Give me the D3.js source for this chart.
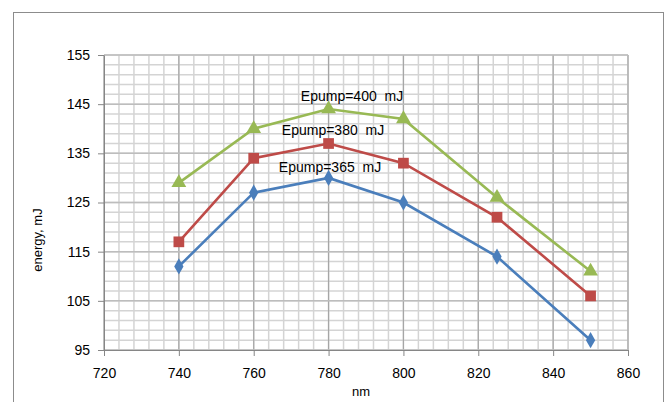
<!DOCTYPE html>
<html>
<head>
<meta charset="utf-8">
<script src="https://cdn.jsdelivr.net/npm/d3@7"></script>
<style>
  body { margin: 0; background: #fff; }
  text { font-family: "Liberation Sans", Arial, sans-serif; fill: #000; }
</style>
</head>
<body>
<div id="chart"></div>
<script>
const wavelengths = [740, 760, 780, 800, 825, 850];
const e365 = [112, 127, 130, 125, 114, 97];
const e380 = [117, 134, 137, 133, 122, 106];
const e400 = [129, 140, 144, 142, 126, 111];
const xTicks = [720, 740, 760, 780, 800, 820, 840, 860];
const yTicks = [95, 105, 115, 125, 135, 145, 155];

const width = 665, height = 402;
const margin = { left: 104, right: 37, top: 55, bottom: 52 };

const svg = d3.select("#chart")
  .append("svg")
  .attr("width", width)
  .attr("height", height);

// outer chart border
svg.append("rect")
  .attr("x", 13.5).attr("y", 12.5)
  .attr("width", 650).attr("height", 400)
  .attr("fill", "none")
  .attr("stroke", "#8c8c8c");

const xScale = d3.scaleLinear()
  .domain([720, 860])
  .range([margin.left, width - margin.right]);

const yScale = d3.scaleLinear()
  .domain([95, 155])
  .range([height - margin.bottom, margin.top]);

const grid = svg.append("g");

// minor grid
grid.selectAll("line.vminor")
  .data(d3.range(720, 860.1, 4))
  .join("line")
  .attr("x1", d => xScale(d)).attr("x2", d => xScale(d))
  .attr("y1", yScale(95)).attr("y2", yScale(155))
  .attr("stroke", "#d4d4d4").attr("stroke-width", 1.5);

grid.selectAll("line.hminor")
  .data(d3.range(95, 155.1, 2))
  .join("line")
  .attr("x1", xScale(720)).attr("x2", xScale(860))
  .attr("y1", d => yScale(d)).attr("y2", d => yScale(d))
  .attr("stroke", "#d4d4d4").attr("stroke-width", 1.5);

// major grid
grid.append("g").selectAll("line")
  .data(xTicks)
  .join("line")
  .attr("x1", d => xScale(d)).attr("x2", d => xScale(d))
  .attr("y1", yScale(95)).attr("y2", yScale(155))
  .attr("stroke", "#a6a6a6").attr("stroke-width", 1.2);

grid.append("g").selectAll("line")
  .data(yTicks)
  .join("line")
  .attr("x1", xScale(720)).attr("x2", xScale(860))
  .attr("y1", d => yScale(d)).attr("y2", d => yScale(d))
  .attr("stroke", "#bdbdbd").attr("stroke-width", 1.5);

// axes
const xAxis = d3.axisBottom(xScale)
  .tickValues(xTicks)
  .tickSize(6)
  .tickPadding(12)
  .tickSizeOuter(0);

const yAxis = d3.axisLeft(yScale)
  .tickValues(yTicks)
  .tickSize(6)
  .tickPadding(8)
  .tickSizeOuter(0);

const gx = svg.append("g")
  .attr("transform", `translate(0, ${yScale(95)})`)
  .call(xAxis);

const gy = svg.append("g")
  .attr("transform", `translate(${xScale(720)}, 0)`)
  .call(yAxis);

[gx, gy].forEach(g => {
  g.select(".domain").attr("stroke", "#868686");
  g.selectAll(".tick line").attr("stroke", "#868686");
  g.selectAll(".tick text")
    .attr("font-size", 14)
    .attr("font-family", "Liberation Sans, Arial, sans-serif")
    .attr("fill", "#000");
});

svg.append("text")
  .attr("x", 361).attr("y", 396)
  .attr("text-anchor", "middle")
  .attr("font-size", 13)
  .text("nm");

svg.append("text")
  .attr("transform", "translate(42, 240) rotate(-90)")
  .attr("text-anchor", "middle")
  .attr("font-size", 13)
  .text("energy, mJ");

const series = [
  { values: e365, color: "#4a7ebb", shape: d3.symbolDiamond, size: 75, label: "Epump=365  mJ", lx: 330, ly: 172 },
  { values: e380, color: "#be4b48", shape: d3.symbolSquare, size: 115, label: "Epump=380  mJ", lx: 333, ly: 135 },
  { values: e400, color: "#98b954", shape: d3.symbolTriangle, size: 95, label: "Epump=400  mJ", lx: 352, ly: 101 }
];

const line = d3.line()
  .x(d => xScale(d[0]))
  .y(d => yScale(d[1]));

series.forEach(s => {
  const pts = wavelengths.map((w, i) => [w, s.values[i]]);
  svg.append("path")
    .attr("d", line(pts))
    .attr("fill", "none")
    .attr("stroke", s.color)
    .attr("stroke-width", 2.6);

  svg.append("g").selectAll("path")
    .data(pts)
    .join("path")
    .attr("transform", d => `translate(${xScale(d[0])}, ${yScale(d[1])})`)
    .attr("d", d3.symbol().type(s.shape).size(s.size))
    .attr("fill", s.color);
});

series.forEach(s => {
  svg.append("text")
    .attr("x", s.lx).attr("y", s.ly)
    .attr("text-anchor", "middle")
    .attr("font-size", 14)
    .attr("xml:space", "preserve")
    .text(s.label);
});
</script>
</body>
</html>
